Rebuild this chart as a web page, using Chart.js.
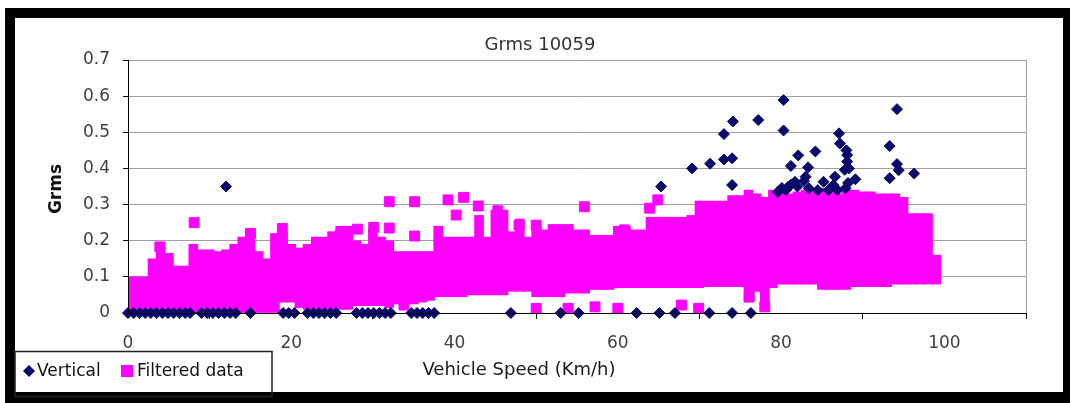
<!DOCTYPE html>
<html><head><meta charset="utf-8">
<script src="https://cdn.jsdelivr.net/npm/chart.js@4/dist/chart.umd.min.js"></script>
<style>html,body{margin:0;padding:0;background:#fff;}canvas{display:block;}</style>
</head><body>
<canvas id="c" width="1070" height="403"></canvas>
<script>
// ---------- texts ----------
const chartTitle = 'Grms 10059';
const xAxisTitle = 'Vehicle Speed (Km/h)';
const yAxisTitle = 'Grms';
const seriesNames = ['Vertical', 'Filtered data'];

// ---------- ticks ----------
const xTickValues = [0, 20, 40, 60, 80, 100];
const xTickLabels = ['0', '20', '40', '60', '80', '100'];
const yTickValues = [0, 0.1, 0.2, 0.3, 0.4, 0.5, 0.6, 0.7];
const yTickLabels = ['0', '0.1', '0.2', '0.3', '0.4', '0.5', '0.6', '0.7'];

// ---------- series "Vertical" (diamonds) ----------
const verticalSpeed = [
  0, 0.7, 1.4, 2.1, 2.8, 3.5, 4.2, 4.9, 5.6, 6.3, 7, 7.6,
  9, 9.7, 10.4, 11.1, 11.8, 12.5, 13.2, 15,
  19, 19.7, 20.4, 22, 22.7, 23.4, 24.1, 24.8, 25.5,
  28, 28.7, 29.4, 30.1, 30.8, 31.5, 32.2,
  34.7, 35.4, 36.1, 36.8, 37.5,
  46.9, 53, 55.2, 62.3, 65.1, 67, 71.2, 74, 76.3,
  12.0, 65.3, 69.1, 71.3, 73.0, 74.0, 73.0, 74.1, 74.0, 77.2,
  80.3, 80.3, 80.1, 80.9, 81.7, 81.2, 82.1, 83.0, 83.3, 84.2,
  85.2, 87.1, 87.2, 88.1, 88.1, 87.8, 86.6, 86.4, 89.1,
  94.2, 93.3, 94.2, 94.4, 93.3, 96.3,
  79.6, 80.6, 81.2, 82.0, 82.8, 83.4, 84.5, 85.8, 86.9, 87.9, 88.2, 88.3, 88.0
];
const verticalGrms = [
  0, 0, 0, 0, 0, 0, 0, 0, 0, 0, 0, 0,
  0, 0, 0, 0, 0, 0, 0, 0,
  0, 0, 0, 0, 0, 0, 0, 0, 0,
  0, 0, 0, 0, 0, 0, 0,
  0, 0, 0, 0, 0,
  0, 0, 0, 0, 0, 0, 0, 0, 0,
  0.35, 0.35, 0.40, 0.413, 0.425, 0.428, 0.495, 0.53, 0.354, 0.534,
  0.589, 0.505, 0.346, 0.35, 0.363, 0.407, 0.436, 0.377, 0.403, 0.447,
  0.363, 0.497, 0.469, 0.437, 0.419, 0.396, 0.377, 0.354, 0.37,
  0.564, 0.462, 0.412, 0.395, 0.373, 0.386,
  0.335, 0.34, 0.355, 0.35, 0.365, 0.345, 0.34, 0.34, 0.34, 0.345, 0.36, 0.40, 0.45
];

// ---------- series "Filtered data" : dense core, low/high extent per 1 km/h ----------
const filteredBinSpeed = [
  0, 1, 2, 3, 4, 5, 6, 7, 8, 9, 10, 11, 12, 13, 14, 15, 16, 17, 18, 19,
  20, 21, 22, 23, 24, 25, 26, 27, 28, 29, 30, 31, 32, 33, 34, 35, 36, 37, 38, 39,
  40, 41, 42, 43, 44, 45, 46, 47, 48, 49, 50, 51, 52, 53, 54, 55, 56, 57, 58, 59,
  60, 61, 62, 63, 64, 65, 66, 67, 68, 69, 70, 71, 72, 73, 74, 75, 76, 77, 78, 79,
  80, 81, 82, 83, 84, 85, 86, 87, 88, 89, 90, 91, 92, 93, 94, 95, 96, 97, 98, 99
];
const filteredLow = [
  0, 0, 0, 0, 0, 0, 0, 0, 0, 0, 0, 0, 0, 0, 0, 0, 0, 0, 0, 0.03,
  0.03, 0.015, 0.01, 0.01, 0.01, 0.01, 0.01, 0.01, 0.02, 0.02, 0.02, 0.02, 0.015, 0.025, 0.025, 0.025, 0.03, 0.035, 0.045, 0.045,
  0.045, 0.045, 0.05, 0.05, 0.05, 0.05, 0.05, 0.06, 0.06, 0.06, 0.045, 0.045, 0.045, 0.045, 0.055, 0.055, 0.055, 0.065, 0.065, 0.065,
  0.07, 0.07, 0.07, 0.07, 0.07, 0.07, 0.07, 0.07, 0.07, 0.07, 0.07, 0.073, 0.073, 0.073, 0.073, 0.073, 0.03, 0.06, 0.01, 0.07,
  0.08, 0.08, 0.08, 0.08, 0.08, 0.065, 0.065, 0.065, 0.065, 0.073, 0.073, 0.073, 0.073, 0.073, 0.08, 0.08, 0.08, 0.08, 0.08, 0.08
];
const filteredHigh = [
  0.10, 0.10, 0.10, 0.15, 0.19, 0.165, 0.13, 0.13, 0.19, 0.175, 0.175, 0.17, 0.175, 0.19, 0.21, 0.21, 0.17, 0.15, 0.22, 0.22,
  0.19, 0.18, 0.19, 0.21, 0.21, 0.225, 0.24, 0.24, 0.20, 0.19, 0.23, 0.21, 0.20, 0.17, 0.17, 0.17, 0.17, 0.17, 0.24, 0.21,
  0.21, 0.21, 0.21, 0.27, 0.21, 0.285, 0.285, 0.225, 0.26, 0.21, 0.23, 0.23, 0.245, 0.245, 0.245, 0.23, 0.23, 0.215, 0.215, 0.215,
  0.24, 0.24, 0.23, 0.23, 0.265, 0.265, 0.265, 0.265, 0.265, 0.27, 0.31, 0.31, 0.31, 0.31, 0.325, 0.325, 0.34, 0.33, 0.32, 0.34,
  0.34, 0.33, 0.335, 0.34, 0.34, 0.345, 0.34, 0.33, 0.34, 0.34, 0.335, 0.335, 0.33, 0.33, 0.33, 0.32, 0.275, 0.275, 0.275, 0.16
];

// ---------- series "Filtered data" : isolated squares ----------
const filteredPointSpeed = [
  3.9, 8.1, 15.0, 18.9, 26.0, 28.1, 30.1, 32.0, 32.0, 35.1, 35.1, 39.2, 40.2, 41.1, 42.9, 45.3,
  45.8, 47.9, 50.0, 55.9, 60.8, 63.9, 64.9, 33.8, 50.0, 53.9, 57.2, 60.0, 67.8, 69.9, 78.0, 76.1
];
const filteredPointGrms = [
  0.183, 0.25, 0.22, 0.234, 0.216, 0.232, 0.237, 0.308, 0.235, 0.308, 0.213, 0.313, 0.271, 0.32, 0.296, 0.283,
  0.27, 0.243, 0.243, 0.294, 0.23, 0.29, 0.313, 0.022, 0.013, 0.013, 0.017, 0.013, 0.022, 0.013, 0.017, 0.045
];

const NAVY = '#0b0b6b';
const MAGENTA = '#ff00ff';
const FONT = 'DejaVu Sans';

const framePlugin = {
  id: 'frame',
  beforeDraw(chart) {
    const ctx = chart.ctx;
    ctx.save();
    ctx.fillStyle = '#fff';
    ctx.fillRect(0, 0, chart.width, chart.height);
    ctx.fillStyle = '#000';
    ctx.fillRect(5, 8, 1065, 10);
    ctx.fillRect(5, 8, 10, 395);
    ctx.fillRect(1063, 8, 7, 395);
    ctx.fillRect(5, 392, 1065, 11);
    ctx.restore();
  },
  afterDraw(chart) {
    const ctx = chart.ctx;
    const a = chart.chartArea;
    ctx.save();
    // plot area right border
    ctx.strokeStyle = '#a0a0a0';
    ctx.lineWidth = 1;
    ctx.beginPath();
    ctx.moveTo(Math.round(a.right) + 0.5, a.top);
    ctx.lineTo(Math.round(a.right) + 0.5, a.bottom);
    ctx.stroke();
    // chart title
    ctx.fillStyle = '#333';
    ctx.font = '18px "' + FONT + '"';
    ctx.textAlign = 'center';
    ctx.textBaseline = 'middle';
    ctx.fillText(chartTitle, 540, 45);
    // x axis title
    ctx.fillStyle = '#1a1a1a';
    ctx.fillText(xAxisTitle, 519, 370);
    // y axis title
    ctx.save();
    ctx.translate(57, 189);
    ctx.rotate(-Math.PI / 2);
    ctx.font = 'bold 17px "' + FONT + '"';
    ctx.fillStyle = '#111';
    ctx.fillText(yAxisTitle, 0, 0);
    ctx.restore();
    // legend
    ctx.fillStyle = '#fff';
    ctx.fillRect(15, 351, 257, 41);
    ctx.strokeStyle = '#222';
    ctx.lineWidth = 1.5;
    ctx.strokeRect(15, 351.5, 257, 45);
    ctx.fillStyle = NAVY;
    ctx.beginPath();
    ctx.moveTo(29, 365); ctx.lineTo(35, 371); ctx.lineTo(29, 377); ctx.lineTo(23, 371); ctx.closePath();
    ctx.fill();
    ctx.fillStyle = MAGENTA;
    ctx.fillRect(121, 365, 12, 12);
    ctx.fillStyle = '#111';
    ctx.font = '17px "' + FONT + '"';
    ctx.textAlign = 'left';
    ctx.fillText(seriesNames[0], 37, 372);
    ctx.fillText(seriesNames[1], 137, 372);
    ctx.restore();
  }
};

new Chart(document.getElementById('c'), {
  type: 'scatter',
  data: {
    datasets: [
      {
        label: seriesNames[0],
        type: 'scatter',
        data: verticalSpeed.map((x, i) => ({ x: x, y: verticalGrms[i] })),
        pointStyle: 'rectRot',
        pointRadius: 5.5,
        backgroundColor: NAVY,
        borderColor: NAVY,
        borderWidth: 1,
        clip: false,
        order: 0
      },
      {
        label: seriesNames[1],
        type: 'scatter',
        data: filteredPointSpeed.map((x, i) => ({ x: x, y: filteredPointGrms[i] })),
        pointStyle: 'rect',
        pointRadius: 7,
        backgroundColor: MAGENTA,
        borderColor: MAGENTA,
        borderWidth: 1,
        clip: false,
        order: 1
      },
      {
        label: seriesNames[1],
        type: 'bar',
        data: filteredBinSpeed.map((x, i) => ({ x: x, y: [filteredLow[i], filteredHigh[i]] })),
        backgroundColor: MAGENTA,
        borderWidth: 0,
        barThickness: 9,
        grouped: false,
        order: 2
      }
    ]
  },
  options: {
    responsive: false,
    devicePixelRatio: 1,
    animation: false,
    events: [],
    layout: { padding: { left: 0, top: 60, right: 44, bottom: 0 } },
    plugins: { legend: { display: false }, tooltip: { enabled: false }, title: { display: false } },
    scales: {
      x: {
        type: 'linear',
        min: 0, max: 110,
        offset: false,
        afterBuildTicks: s => { s.ticks = xTickValues.map(v => ({ value: v })); },
        afterFit: s => { s.height = 90; },
        ticks: {
          callback: (v, i) => xTickLabels[i],
          color: '#404040',
          font: { family: FONT, size: 17 },
          padding: 14,
          maxRotation: 0,
          autoSkip: false
        },
        grid: { drawOnChartArea: false, drawTicks: true, tickLength: 6, tickColor: '#000' },
        border: { display: true, color: '#000', width: 1, z: 1 }
      },
      y: {
        type: 'linear',
        min: 0, max: 0.7,
        afterBuildTicks: s => { s.ticks = yTickValues.map(v => ({ value: v })); },
        afterFit: s => { s.width = 128; },
        ticks: {
          callback: (v, i) => yTickLabels[i],
          color: '#404040',
          font: { family: FONT, size: 17 },
          padding: 13,
          autoSkip: false
        },
        grid: { color: '#a0a0a0', lineWidth: 1, drawTicks: true, tickLength: 5, tickColor: '#000' },
        border: { display: true, color: '#000', width: 1, z: 1 }
      }
    }
  },
  plugins: [framePlugin]
});
</script>
</body></html>
